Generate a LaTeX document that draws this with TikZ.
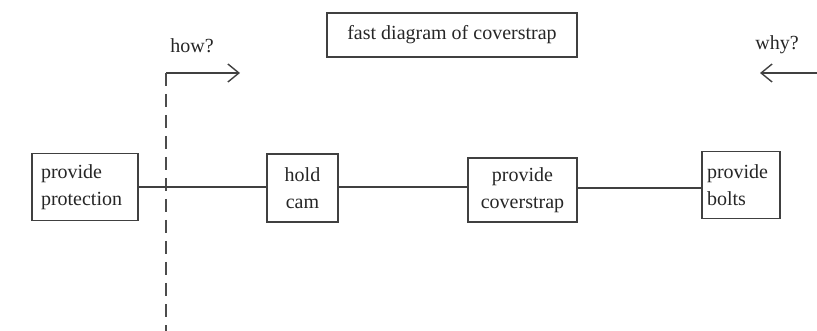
\documentclass[tikz,border=0pt]{standalone}
\usepackage{fontspec}
\setmainfont{Liberation Serif}
\usetikzlibrary{arrows.meta,positioning}
\tikzset{
  fastbox/.style={rectangle, draw=black!75, line width=1.6pt,
                  inner xsep=#1, inner ysep=0pt, text=black!85,
                  font=\rmfamily\fontsize{20}{27}\selectfont},
  fastbox/.default=4pt,
  lbl/.style={text=black!85, font=\rmfamily\fontsize{20}{24}\selectfont},
  link/.style={draw=black!75, line width=1.6pt},
  sense/.style={-{Straight Barb[length=11pt, width=18pt, line width=1.4pt]},
                draw=black!75, line width=1.4pt},
  scopeline/.style={draw=black!70, line width=2pt, dash pattern=on 13pt off 8pt},
}

\begin{document}
\begin{tikzpicture}[x=1pt, y=-1pt]
  \useasboundingbox (0,0) rectangle (817,331);
  % title
  \node[fastbox=4pt, minimum width=250pt, minimum height=44pt] (title) at (452,35)
       {fast diagram of coverstrap};
  % how / why
  \node[lbl] (how) at (192,46) {how?};
  \node[lbl] (why) at (777,45) {why?};
  \coordinate (howcorner) at (166,73);
  \coordinate (howtip)    at (240,73);
  \coordinate (whystart)  at (817,73);
  \coordinate (whytip)    at (760,73);
  \coordinate (scopeend)  at (166,331);
  \draw[sense] (howcorner) -- (howtip);
  \draw[sense] (whystart) -- (whytip);
  \draw[scopeline] (howcorner) -- (scopeend);
  % functions
  \node[fastbox=9pt, text width=88pt, minimum height=67pt, align=left] (prot) at (85,187)
       {provide\\protection};
  \node[fastbox=4pt, text width=63pt, minimum height=68pt, align=center] (cam) at (302.5,188)
       {hold\\cam};
  \node[fastbox=4pt, text width=101pt, minimum height=64pt, align=center] (strap) at (522.5,190)
       {provide\\coverstrap};
  \node[fastbox=5pt, text width=68pt, minimum height=67pt, align=left] (bolts) at (741,185)
       {provide\\bolts};
  \draw[link] (prot.east)  -- (prot.east -| cam.west);
  \draw[link] ([yshift=1pt]cam.east) -- ([yshift=1pt]cam.east -| strap.west);
  \draw[link] ([yshift=2pt]strap.east) -- ([yshift=2pt]strap.east -| bolts.west);
\end{tikzpicture}
\end{document}
